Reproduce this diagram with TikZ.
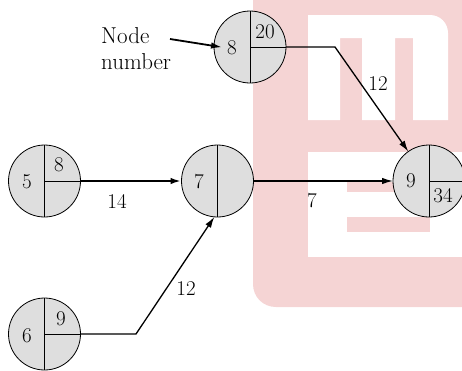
\documentclass[tikz,border=0pt]{standalone}
\usetikzlibrary{arrows.meta}
\definecolor{wmpink}{RGB}{245,212,212}
\definecolor{nodegray}{RGB}{222,222,222}
\begin{document}
\begin{tikzpicture}[x=1pt,y=-1pt,
  circ/.style={circle,draw=black,line width=0.8pt,fill=nodegray,minimum size=72pt,inner sep=0pt,outer sep=0pt},
  num/.style={inner sep=0pt,font=\fontsize{21}{25}\selectfont},
  conn/.style={line width=1.3pt,-{Latex[length=11pt,width=6.5pt]}},
  divider/.style={line width=0.8pt}]
\useasboundingbox (0,0) rectangle (462,370);
\clip (0,0) rectangle (462,370);
% watermark
\fill[wmpink] (253,0) -- (462,0) -- (462,307) -- (276,307) .. controls (263,307) and (253,297) .. (253,284) -- cycle;
\fill[white] (308,15) -- (430,15) .. controls (440,15) and (448,23) .. (448,33) -- (448,120) -- (413,120) -- (413,38) -- (395,38) -- (395,120) -- (362,120) -- (362,38) -- (340,38) -- (340,120) -- (308,120) -- cycle;
\fill[white] (308,152) rectangle (462,257);
\fill[wmpink] (347,182) rectangle (462,192);
\fill[wmpink] (347,217) rectangle (430,232);
% nodes
\node[circ] (n8) at (250,47) {};
\node[circ] (n5) at (44.5,181) {};
\node[circ] (n7) at (217.5,181) {};
\node[circ] (n9) at (429,181) {};
\node[circ] (n6) at (44.5,334) {};
\draw[divider] (n8.north) -- (n8.south) (n8.center) -- (n8.east);
\draw[divider] (n5.north) -- (n5.south) (n5.center) -- (n5.east);
\draw[divider] (n7.north) -- (n7.south);
\draw[divider] (n9.north) -- (n9.south) (n9.center) -- (n9.east);
\draw[divider] (n6.north) -- (n6.south) (n6.center) -- (n6.east);
% numbers
\node[num] (t8) at (232,48) {8};
\node[num] (t8e) at (265,32) {20};
\node[num] (t5) at (27,182) {5};
\node[num] (t5e) at (59,165) {8};
\node[num] (t7) at (199,182) {7};
\node[num] (t9) at (411,181) {9};
\node[num] (t9l) at (443,196) {34};
\node[num] (t6) at (27,336) {6};
\node[num] (t6e) at (61,319) {9};
% connectors
\coordinate (b1) at (335,47);
\draw[conn] (n8.east) -- (b1) -- (n9);
\draw[conn,line width=2.8pt] (n5) -- (n7);
\draw[conn] (n7) -- (n9);
\coordinate (b2) at (136,334);
\draw[conn] (n6.east) -- (b2) -- (n7.265);
% edge labels
\node[num] (d1) at (378,84) {12};
\node[num] (d2) at (117,201) {14};
\node[num] (d3) at (312,201) {7};
\node[num] (d4) at (186,289) {12};
% node number label
\node[num,align=left,anchor=west,font=\fontsize{23}{26}\selectfont] (lbl) at (101,49) {Node\\number};
\coordinate (la) at (170,39);
\draw[line width=1.8pt,-{Latex[length=11pt,width=6.5pt]},shorten >=5pt] (la) -- (t8.west);
\end{tikzpicture}
\end{document}
